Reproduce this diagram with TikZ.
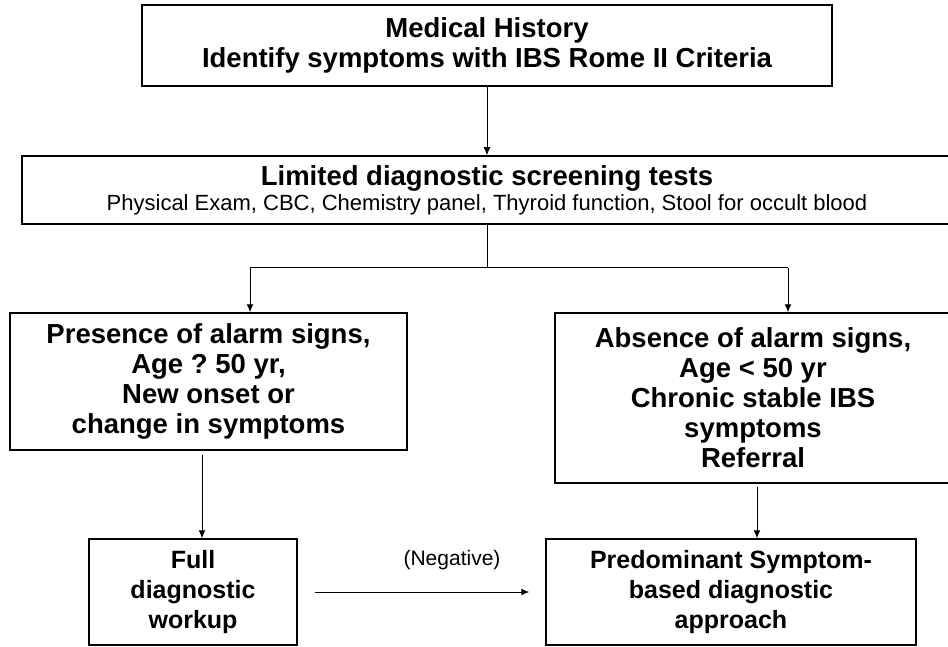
\documentclass[tikz,border=0pt]{standalone}
\usepackage{fontspec}
\setmainfont{Liberation Sans}
\usetikzlibrary{arrows.meta}
\frenchspacing

\begin{document}
\begin{tikzpicture}[->,>={Latex[length=8pt,width=7pt]},x=1pt,y=-1pt,line width=1pt]
	\tikzstyle{box}=[draw,line width=1.5pt,rectangle,align=center,inner sep=0pt,
	font=\fontsize{27.5}{30}\selectfont\bfseries]
	\tikzstyle{small}=[font=\fontsize{25}{30}\selectfont\bfseries]
	\useasboundingbox (0,0) rectangle (948,647);
	
	\node[box,minimum width=690pt,minimum height=81pt] (hist) at (487,45.5)
	{Medical History\\Identify symptoms with IBS Rome II Criteria};
	\node[box,minimum width=930pt,minimum height=68pt] (screen) at (487,190)
	{Limited diagnostic screening tests\\[-5pt]
		{\fontsize{22}{25}\selectfont\mdseries Physical Exam, CBC, Chemistry panel, Thyroid function, Stool for occult blood}};
	\node[box,minimum width=397pt,minimum height=137pt] (alarm) at (208.5,381.5)
	{Presence of alarm signs,\\Age ? 50 yr,\\New onset or\\change in symptoms};
	\node[box,minimum width=396pt,minimum height=170pt] (noalarm) at (753,398)
	{Absence of alarm signs,\\Age < 50 yr\\Chronic stable IBS\\symptoms\\Referral};
	\node[box,small,minimum width=208pt,minimum height=106pt] (workup) at (193,592)
	{Full\\diagnostic\\workup};
	\node[box,small,minimum width=370pt,minimum height=106pt] (symptom) at (731,592)
	{Predominant Symptom-\\based diagnostic\\approach};
	\node[font=\fontsize{21}{24}\selectfont] (neg) at (452,560) {(Negative)};
	
	\coordinate (split) at (487,268);
	\coordinate (left) at (250,268);
	\coordinate (right) at (788,268);
	
	\path (hist) edge (screen);
	\draw[-] (screen) -- (split);
	\draw[-] (left) -- (right);
	\draw (left) -- (left |- alarm.north);
	\draw (right) -- (right |- noalarm.north);
	\draw[shorten <=4pt] ([xshift=9pt]workup.north |- alarm.south) -- ([xshift=9pt]workup.north);
	\draw[shorten <=3pt] ([xshift=4pt]noalarm.south) -- ([xshift=4pt]noalarm.south |- symptom.north);
	\draw[shorten <=17pt,shorten >=16pt] (workup) -- (symptom);
	
\end{tikzpicture}
\end{document}
